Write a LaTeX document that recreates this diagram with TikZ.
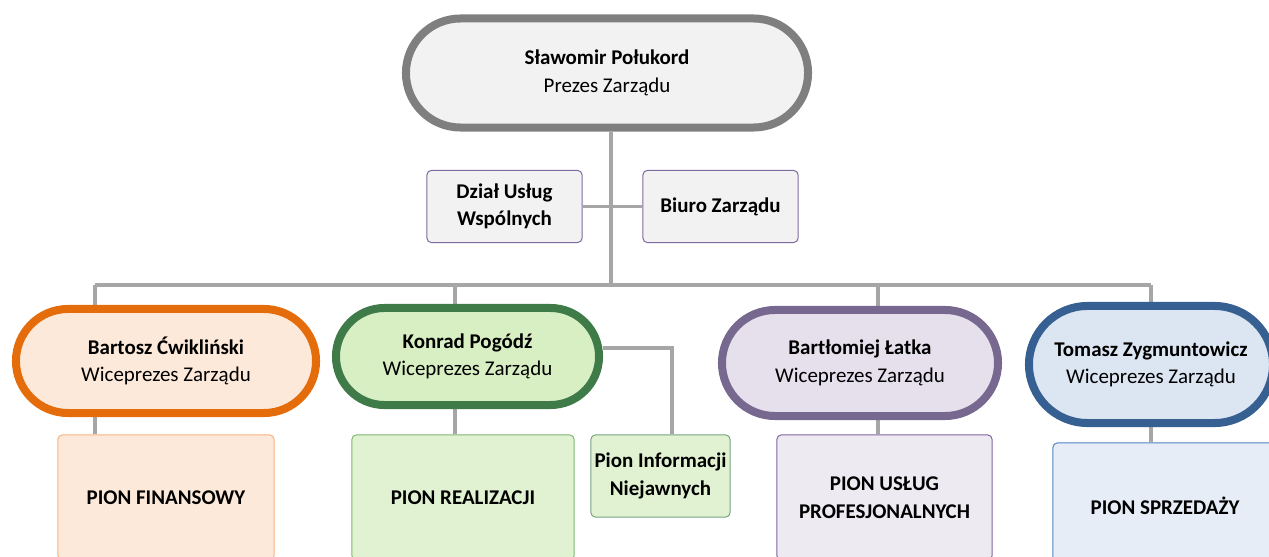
\documentclass[tikz,border=0pt]{standalone}
\usepackage{fontspec}
\setmainfont{Carlito}
\usetikzlibrary{shapes.misc,backgrounds}

\definecolor{linegray}{HTML}{A6A6A6}
\definecolor{topline}{HTML}{7F7F7F}
\definecolor{topfill}{HTML}{F2F2F2}
\definecolor{boxline}{HTML}{7F6A9E}
\definecolor{finline}{HTML}{E46C0A}
\definecolor{finfill}{HTML}{FDE9D9}
\definecolor{finbox}{HTML}{F4B183}
\definecolor{realine}{HTML}{3E7B48}
\definecolor{reafill}{HTML}{D8EEC3}
\definecolor{reabox}{HTML}{7DB870}
\definecolor{reaboxfill}{HTML}{E0F2D1}
\definecolor{uslline}{HTML}{76688F}
\definecolor{uslfill}{HTML}{E5E0EC}
\definecolor{uslbox}{HTML}{8064A2}
\definecolor{uslboxfill}{HTML}{EDEAF2}
\definecolor{sprline}{HTML}{376092}
\definecolor{sprfill}{HTML}{DCE6F2}
\definecolor{sprbox}{HTML}{4F81BD}
\definecolor{sprboxfill}{HTML}{E6EDF7}

\begin{document}
\begin{tikzpicture}[x=0.025cm,y=-0.025cm,
	every node/.style={font=\fontsize{14.9}{19.5}\selectfont},
	lead/.style={rounded rectangle,draw,line width=5.7pt,align=center,inner sep=0pt},
	unit/.style={rectangle,rounded corners=3pt,draw,line width=0.7pt,align=center,inner sep=0pt,
		font=\fontsize{14.9}{19.5}\selectfont\bfseries},
	link/.style={draw=linegray,line width=2.3pt}]
	\useasboundingbox (0,0) rectangle (1269,557);
	\clip (0,0) rectangle (1269,557);
	% zarzad
	\node[lead,draw=topline,fill=topfill,minimum width=10.05cm,minimum height=2.725cm] (prezes) at (607,73)
		{\textbf{Sławomir Połukord}\\Prezes Zarządu};
	\node[unit,draw=boxline,fill=topfill,minimum width=3.875cm,minimum height=1.8cm] (dzial) at (504.5,206.5)
		{Dział Usług\\Wspólnych};
	\node[unit,draw=boxline,fill=topfill,minimum width=3.875cm,minimum height=1.8cm] (biuro) at (720.5,206.5)
		{Biuro Zarządu};
	% wiceprezesi
	\node[lead,draw=finline,fill=finfill,minimum width=7.5cm,minimum height=2.6cm] (cwiklinski) at (166,361)
		{\textbf{Bartosz Ćwikliński}\\Wiceprezes Zarządu};
	\node[lead,draw=realine,fill=reafill,minimum width=6.575cm,minimum height=2.425cm] (pogodz) at (467.5,356.5)
		{\textbf{Konrad Pogódź}\\Wiceprezes Zarządu};
	\node[lead,draw=uslline,fill=uslfill,minimum width=6.9cm,minimum height=2.65cm] (latka) at (860,363)
		{\textbf{Bartłomiej Łatka}\\Wiceprezes Zarządu};
	\node[lead,draw=sprline,fill=sprfill,minimum width=6.1cm,minimum height=2.925cm] (zygmuntowicz) at (1151,364.5)
		{\textbf{Tomasz Zygmuntowicz}\\Wiceprezes Zarządu};
	% piony
	\node[unit,draw=finbox,fill=finfill,minimum width=5.4cm,minimum height=3.125cm] (finansowy) at (166,497.5)
		{PION FINANSOWY};
	\node[unit,draw=reabox,fill=reaboxfill,minimum width=5.55cm,minimum height=3.125cm] (realizacji) at (463,497.5)
		{PION REALIZACJI};
	\node[unit,draw=realine!70,fill=reaboxfill,minimum width=3.475cm,minimum height=2.05cm] (niejawnych) at (660.5,476)
		{Pion Informacji\\Niejawnych};
	\node[unit,draw=uslbox,fill=uslboxfill,minimum width=5.375cm,minimum height=3.125cm] (uslug) at (884.5,497.5)
		{PION USŁUG\\PROFESJONALNYCH};
	\node[unit,draw=sprbox,fill=sprboxfill,minimum width=5.6cm,minimum height=3.15cm] (sprzedazy) at (1165,506)
		{PION SPRZEDAŻY};
	% polaczenia
	\coordinate (hub) at (611,285);
	\coordinate (b1) at (95,285);
	\coordinate (b2) at (455,285);
	\coordinate (b3) at (878,285);
	\coordinate (b4) at (1151,285);
	\coordinate (k2) at (672,348);
	\begin{scope}[on background layer]
		\draw[link] (prezes.south -| hub) -- (hub);
		\draw[link] (dzial.east) -- (biuro.west);
		\draw[link] (b1) -- (b4);
		\draw[link] (b1) -- (b1 |- cwiklinski.north);
		\draw[link] (b2) -- (b2 |- pogodz.north);
		\draw[link] (b3) -- (b3 |- latka.north);
		\draw[link] (b4) -- (b4 |- zygmuntowicz.north);
		\draw[link] (b1 |- cwiklinski.south) -- (b1 |- finansowy.north);
		\draw[link] (b2 |- pogodz.south) -- (b2 |- realizacji.north);
		\draw[link] (b3 |- latka.south) -- (b3 |- uslug.north);
		\draw[link] (b4 |- zygmuntowicz.south) -- (b4 |- sprzedazy.north);
		\draw[link] (k2 -| pogodz.east) -- (k2) -- (k2 |- niejawnych.north);
	\end{scope}
\end{tikzpicture}
\end{document}
